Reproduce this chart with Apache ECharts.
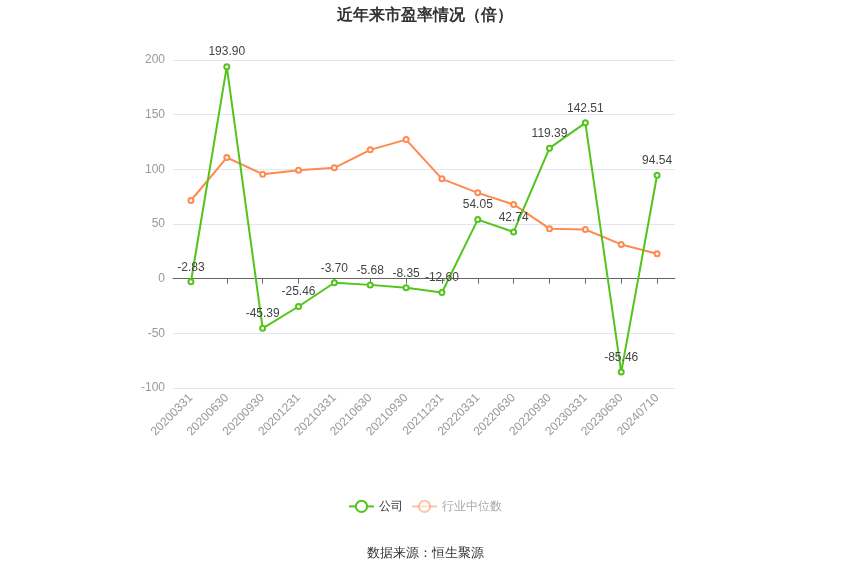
<!DOCTYPE html>
<html>
<head>
<meta charset="utf-8">
<script src="https://cdn.jsdelivr.net/npm/echarts@6/dist/echarts.min.js"></script>
<style>
  html, body { margin: 0; padding: 0; background: #fff; }
  #main { width: 850px; height: 575px; }
</style>
</head>
<body>
<div id="main"></div>
<script>
// 报告期
const categories = ['20200331', '20200630', '20200930', '20201231', '20210331', '20210630', '20210930',
  '20211231', '20220331', '20220630', '20220930', '20230331', '20230630', '20240710'];
// 公司市盈率
const companyPE = [-2.83, 193.90, -45.39, -25.46, -3.70, -5.68, -8.35, -12.60, 54.05, 42.74, 119.39, 142.51, -85.46, 94.54];
// 行业中位数
const industryPE = [71.5, 110.8, 95.6, 99.2, 101.4, 117.8, 127.2, 91.3, 78.5, 67.9, 45.7, 45.0, 31.3, 22.8];

const chart = echarts.init(document.getElementById('main'));

const option = {
  title: {
    text: '近年来市盈率情况（倍）',
    left: 'center',
    top: 3,
    textStyle: { fontSize: 16, fontWeight: 'bold', color: '#333' }
  },
  grid: { left: 173, right: 175, top: 60, bottom: 187 },
  legend: {
    bottom: 57,
    left: 'center',
    itemWidth: 25,
    itemHeight: 14,
    textStyle: { color: '#333', fontSize: 12 },
    data: [
      { name: '公司' },
      { name: '行业中位数', itemStyle: { opacity: 0.5 }, lineStyle: { opacity: 0.5 }, textStyle: { color: '#aaa' } }
    ]
  },
  graphic: [{
    type: 'text',
    left: 'center',
    top: 547,
    style: { text: '数据来源：恒生聚源', fill: '#333', fontSize: 13 }
  }],
  xAxis: {
    type: 'category',
    data: categories,
    axisLine: { lineStyle: { color: '#666' } },
    axisTick: { show: true, alignWithLabel: true, lineStyle: { color: '#666' } },
    axisLabel: { rotate: 45, color: '#999', fontSize: 12, interval: 0 }
  },
  yAxis: {
    type: 'value',
    min: -100,
    max: 200,
    interval: 50,
    axisLine: { show: false },
    axisTick: { show: false },
    axisLabel: { color: '#999', fontSize: 12 },
    splitLine: { lineStyle: { color: '#e0e6f1' } }
  },
  series: [
    {
      name: '公司',
      type: 'line',
      data: companyPE,
      color: '#52C41A',
      symbol: 'emptyCircle',
      symbolSize: 5,
      lineStyle: { width: 2 },
      label: { show: true, position: 'top', color: '#444', fontSize: 12, formatter: p => p.value.toFixed(2) },
      z: 3
    },
    {
      name: '行业中位数',
      type: 'line',
      data: industryPE,
      color: '#FF8A50',
      symbol: 'emptyCircle',
      symbolSize: 5,
      lineStyle: { width: 2 },
      z: 2
    }
  ]
};

chart.setOption(option);
</script>
</body>
</html>
